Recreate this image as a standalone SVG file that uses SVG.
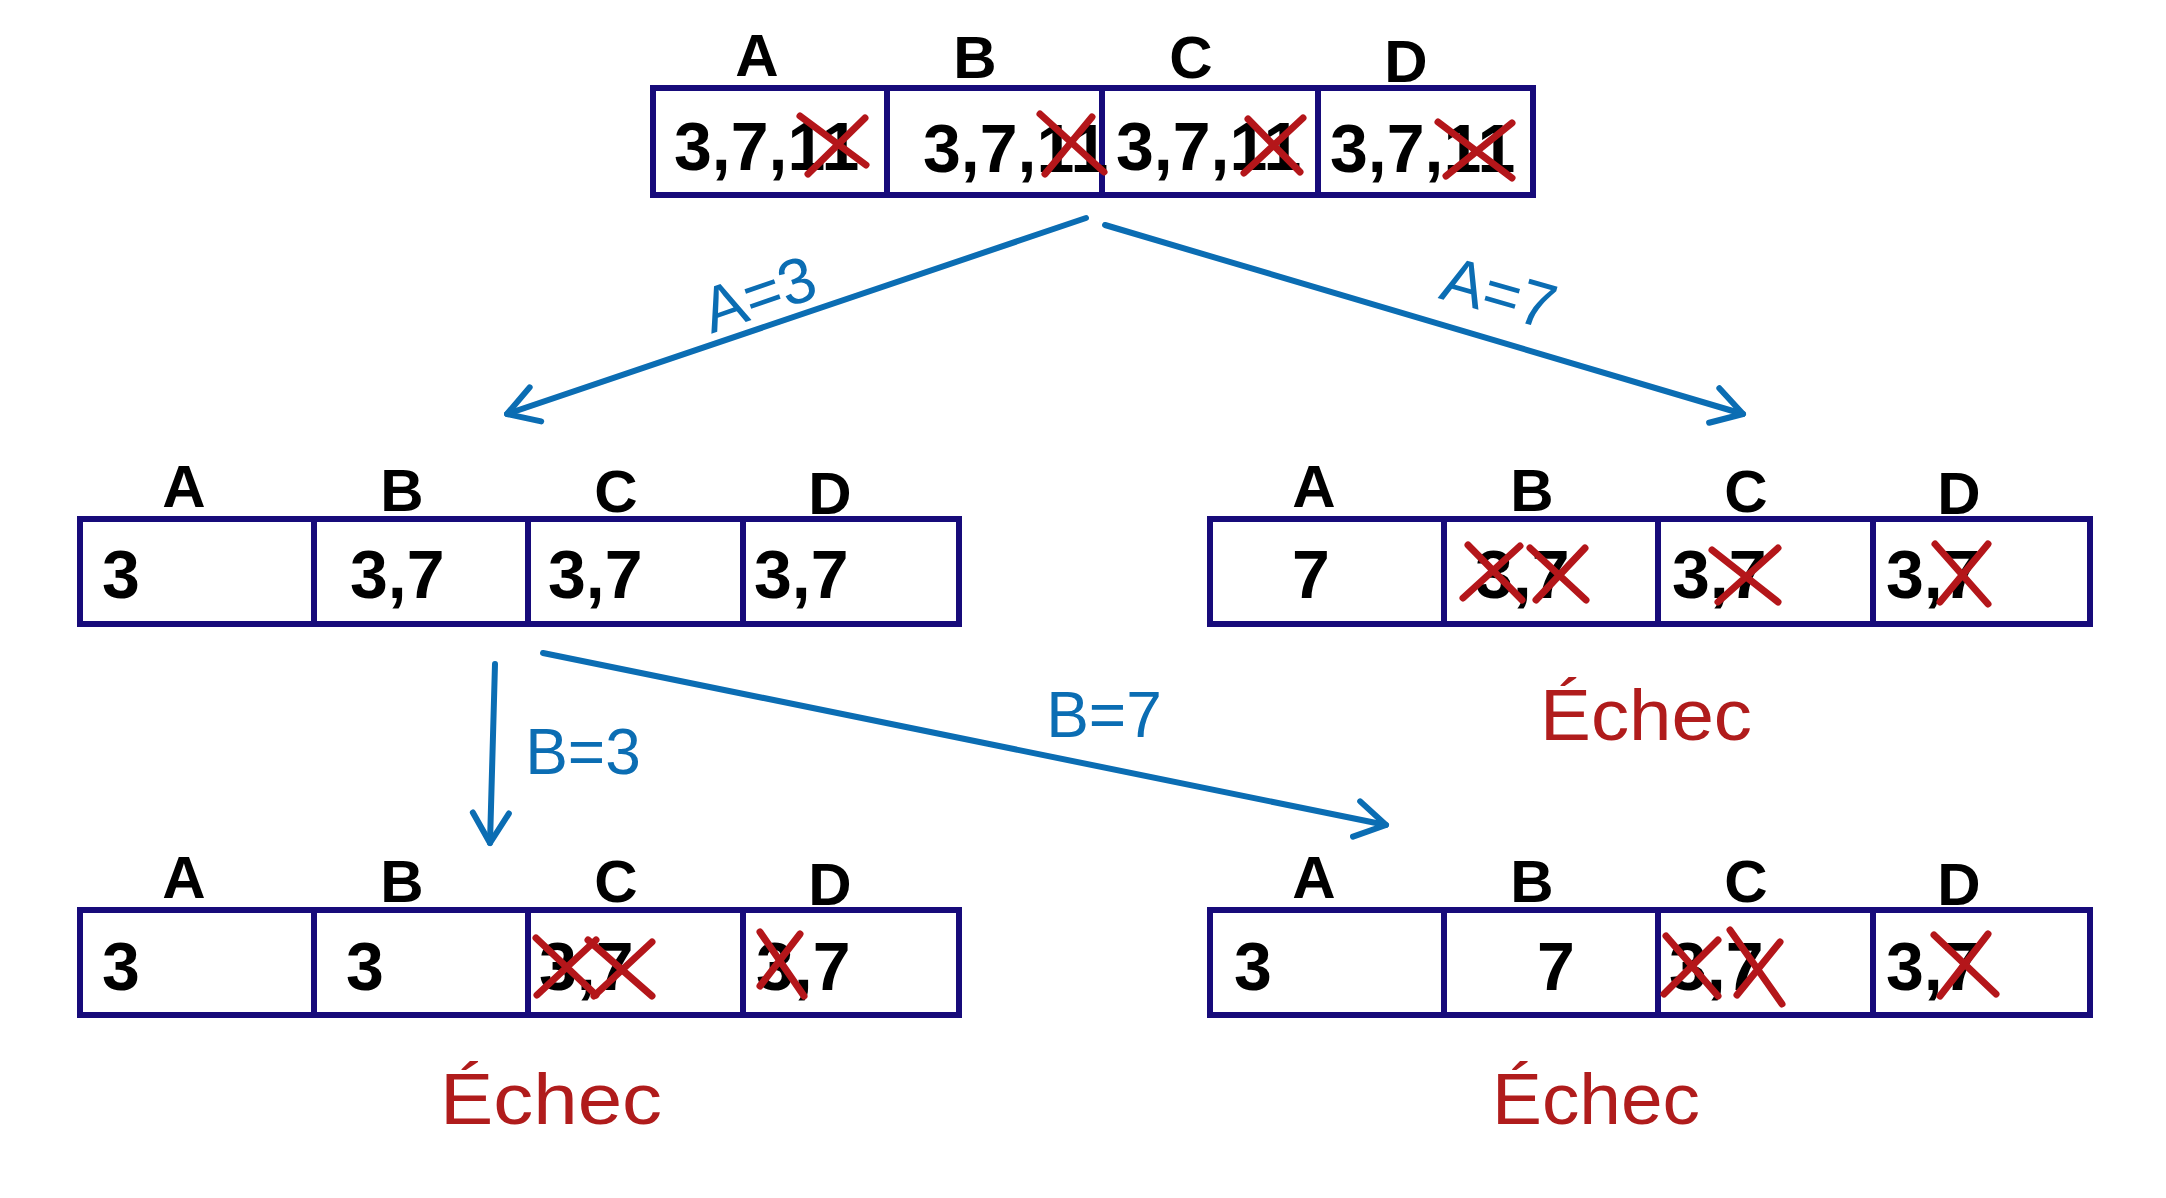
<svg xmlns="http://www.w3.org/2000/svg" width="2166" height="1198" viewBox="0 0 2166 1198">
<style>
.tbl{fill:#fff;stroke:#170b7a;stroke-width:6}
.div{stroke:#170b7a;stroke-width:6}
.hdr{font-family:"Liberation Sans",Arial,sans-serif;font-weight:bold;font-size:60px;fill:#000;text-anchor:middle}
.val{font-family:"Liberation Sans",Arial,sans-serif;font-weight:bold;font-size:68px;fill:#000}
.x{fill:none;stroke:#b4161a;stroke-width:7;stroke-linecap:round}
.fail{font-family:"Liberation Sans",Arial,sans-serif;font-size:72px;fill:#b01c1c;text-anchor:middle}
.edge{fill:none;stroke:#0b6db3;stroke-width:6;stroke-linecap:round}
.lbl{font-family:"Liberation Sans",Arial,sans-serif;font-size:64px;fill:#0b6db3;text-anchor:middle}
</style>
<defs>
<marker id="ah" markerUnits="userSpaceOnUse" markerWidth="60" markerHeight="60" refX="0" refY="0" viewBox="-40 -30 50 60" orient="auto" overflow="visible">
<path d="M -30 -18 L 0 0 L -30 18" fill="none" stroke="#0b6db3" stroke-width="6" stroke-linecap="round" stroke-linejoin="round"/>
</marker>
</defs>
<rect width="2166" height="1198" fill="#fff"/>

<g id="connectors">
<path class="edge" d="M1086 218 L507 414" marker-end="url(#ah)"/>
<path class="edge" d="M1105 225 L1743 414" marker-end="url(#ah)"/>
<path class="edge" d="M495 664 L490 843" marker-end="url(#ah)"/>
<path class="edge" d="M543 653 L1386 825" marker-end="url(#ah)"/>
<text class="lbl" transform="translate(766 315) rotate(-19)">A=3</text>
<text class="lbl" transform="translate(1493 314) rotate(16)">A=7</text>
<text class="lbl" x="583" y="774">B=3</text>
<text class="lbl" x="1104" y="737">B=7</text>
</g>

<g id="node-root">
<rect class="tbl" x="653" y="88" width="880" height="107"/>
<line class="div" x1="887" y1="88" x2="887" y2="195"/>
<line class="div" x1="1102" y1="88" x2="1102" y2="195"/>
<line class="div" x1="1318" y1="88" x2="1318" y2="195"/>
<text class="hdr" x="757" y="76">A</text>
<text class="hdr" x="975" y="78">B</text>
<text class="hdr" x="1191" y="78">C</text>
<text class="hdr" x="1406" y="82">D</text>
<text class="val" x="674" y="170">3,7,11</text>
<text class="val" x="923" y="172">3,7,11</text>
<text class="val" x="1116" y="170">3,7,11</text>
<text class="val" x="1330" y="172">3,7,11</text>
<path class="x" d="M800 116 L866 165 M865 118 L808 174"/>
<path class="x" d="M1040 114 L1104 172 M1092 117 L1045 174"/>
<path class="x" d="M1248 119 L1300 172 M1303 118 L1244 173"/>
<path class="x" d="M1438 122 L1512 178 M1512 123 L1446 176"/>
</g>

<g id="node-a3">
<rect class="tbl" x="80" y="519" width="879" height="105"/>
<line class="div" x1="314" y1="519" x2="314" y2="624"/>
<line class="div" x1="528" y1="519" x2="528" y2="624"/>
<line class="div" x1="743" y1="519" x2="743" y2="624"/>
<text class="hdr" x="184" y="507">A</text>
<text class="hdr" x="402" y="511">B</text>
<text class="hdr" x="616" y="512">C</text>
<text class="hdr" x="830" y="514">D</text>
<text class="val" x="102" y="598">3</text>
<text class="val" x="350" y="598">3,7</text>
<text class="val" x="548" y="598">3,7</text>
<text class="val" x="754" y="598">3,7</text>
</g>

<g id="node-a7">
<rect class="tbl" x="1210" y="519" width="880" height="105"/>
<line class="div" x1="1444" y1="519" x2="1444" y2="624"/>
<line class="div" x1="1658" y1="519" x2="1658" y2="624"/>
<line class="div" x1="1873" y1="519" x2="1873" y2="624"/>
<text class="hdr" x="1314" y="507">A</text>
<text class="hdr" x="1532" y="511">B</text>
<text class="hdr" x="1746" y="512">C</text>
<text class="hdr" x="1959" y="514">D</text>
<text class="val" x="1292" y="598">7</text>
<text class="val" x="1475" y="598">3,7</text>
<text class="val" x="1672" y="598">3,7</text>
<text class="val" x="1886" y="598">3,7</text>
<path class="x" d="M1468 545 L1522 600 M1520 546 L1463 598"/>
<path class="x" d="M1530 548 L1586 600 M1585 548 L1536 600"/>
<path class="x" d="M1712 550 L1778 602 M1778 548 L1718 602"/>
<path class="x" d="M1935 544 L1988 604 M1988 544 L1940 602"/>
<text class="fail" x="1646" y="740" textLength="212" lengthAdjust="spacingAndGlyphs">Échec</text>
</g>

<g id="node-b3">
<rect class="tbl" x="80" y="910" width="879" height="105"/>
<line class="div" x1="314" y1="910" x2="314" y2="1015"/>
<line class="div" x1="528" y1="910" x2="528" y2="1015"/>
<line class="div" x1="743" y1="910" x2="743" y2="1015"/>
<text class="hdr" x="184" y="898">A</text>
<text class="hdr" x="402" y="902">B</text>
<text class="hdr" x="616" y="902">C</text>
<text class="hdr" x="830" y="905">D</text>
<text class="val" x="102" y="990">3</text>
<text class="val" x="346" y="990">3</text>
<text class="val" x="539" y="990">3,7</text>
<text class="val" x="756" y="990">3,7</text>
<path class="x" d="M536 938 L596 995 M596 940 L537 995"/>
<path class="x" d="M588 940 L652 996 M652 942 L594 996"/>
<path class="x" d="M760 932 L804 996 M800 934 L760 986"/>
<text class="fail" x="551" y="1124" textLength="222" lengthAdjust="spacingAndGlyphs">Échec</text>
</g>

<g id="node-b7">
<rect class="tbl" x="1210" y="910" width="880" height="105"/>
<line class="div" x1="1444" y1="910" x2="1444" y2="1015"/>
<line class="div" x1="1658" y1="910" x2="1658" y2="1015"/>
<line class="div" x1="1873" y1="910" x2="1873" y2="1015"/>
<text class="hdr" x="1314" y="898">A</text>
<text class="hdr" x="1532" y="902">B</text>
<text class="hdr" x="1746" y="902">C</text>
<text class="hdr" x="1959" y="905">D</text>
<text class="val" x="1234" y="990">3</text>
<text class="val" x="1537" y="990">7</text>
<text class="val" x="1669" y="990">3,7</text>
<text class="val" x="1886" y="990">3,7</text>
<path class="x" d="M1666 936 L1718 996 M1718 940 L1664 994"/>
<path class="x" d="M1730 930 L1782 1004 M1780 942 L1737 995"/>
<path class="x" d="M1934 935 L1996 994 M1988 934 L1940 996"/>
<text class="fail" x="1596" y="1124" textLength="208" lengthAdjust="spacingAndGlyphs">Échec</text>
</g>
</svg>
